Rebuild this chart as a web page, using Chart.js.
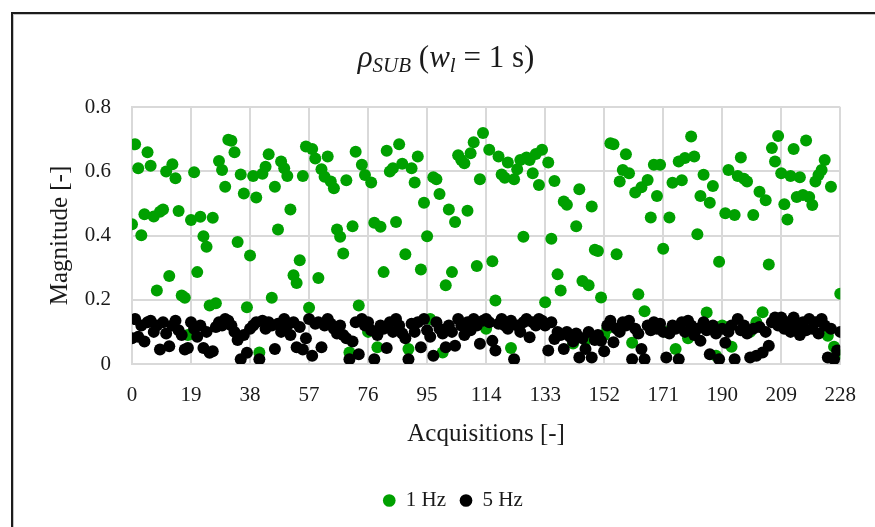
<!DOCTYPE html>
<html>
<head>
<meta charset="utf-8">
<script src="https://cdn.jsdelivr.net/npm/chart.js@4.4.0/dist/chart.umd.min.js"></script>
<style>
  html, body { margin: 0; padding: 0; background: #fff; }
  #wrap { position: relative; width: 875px; height: 527px; overflow: hidden; }
  #frame {
    position: absolute; left: 11px; top: 12px; width: 900px; height: 600px;
    border-left: 2px solid #1c1c1c; border-top: 2px solid #1c1c1c;
    box-shadow: inset 1px 1px 0 #c4c4c4;
  }
  #myChart { position: absolute; left: 0; top: 0; }
</style>
</head>
<body>
<div id="wrap">
  <div id="frame"></div>
  <canvas id="myChart" width="875" height="527"></canvas>
</div>
<script>
  'use strict';

  // x ticks / y ticks
  var xTicks = [0, 19, 38, 57, 76, 95, 114, 133, 152, 171, 190, 209, 228];
  var yTicks = [0, 0.2, 0.4, 0.6, 0.8];

  // 1 Hz series (acquisitions 0..228)
  var hz1 = [
    0.435, 0.684, 0.609, 0.401, 0.466, 0.659, 0.617, 0.459, 0.229, 0.474,
    0.481, 0.599, 0.274, 0.622, 0.578, 0.476, 0.213, 0.206, 0.09, 0.448,
    0.597, 0.286, 0.458, 0.398, 0.365, 0.182, 0.455, 0.189, 0.632, 0.604,
    0.552, 0.698, 0.695, 0.659, 0.38, 0.59, 0.531, 0.177,
    0.338, 0.585, 0.518, 0.036, 0.592, 0.614, 0.653, 0.206, 0.552, 0.419,
    0.63, 0.609, 0.585, 0.481, 0.276, 0.252, 0.323, 0.585, 0.677, 0.175,
    0.669, 0.64, 0.268, 0.606, 0.583, 0.646, 0.568, 0.547, 0.419, 0.396,
    0.344, 0.572, 0.036, 0.429, 0.661, 0.182, 0.62, 0.588,
    0.1, 0.565, 0.44, 0.052, 0.427, 0.286, 0.664, 0.599, 0.609, 0.442,
    0.684, 0.623, 0.342, 0.047, 0.609, 0.565, 0.646, 0.294, 0.502, 0.398,
    0.14, 0.581, 0.575, 0.529, 0.036, 0.245, 0.481, 0.286, 0.442, 0.65,
    0.635, 0.625, 0.477, 0.656, 0.69, 0.305, 0.575, 0.719,
    0.11, 0.667, 0.32, 0.198, 0.646, 0.59, 0.58, 0.627, 0.05, 0.575,
    0.606, 0.635, 0.396, 0.643, 0.635, 0.594, 0.654, 0.557, 0.667, 0.192,
    0.627, 0.39, 0.57, 0.279, 0.229, 0.506, 0.496, 0.09, 0.064, 0.429,
    0.544, 0.258, 0.075, 0.245, 0.49, 0.356, 0.352, 0.207,
    0.09, 0.11, 0.6875, 0.684, 0.342, 0.568, 0.604, 0.653, 0.594, 0.066,
    0.534, 0.217, 0.55, 0.164, 0.573, 0.456, 0.62, 0.523, 0.62, 0.359,
    0.1, 0.456, 0.564, 0.047, 0.63, 0.572, 0.641, 0.08, 0.708, 0.646,
    0.404, 0.523, 0.589, 0.16, 0.502, 0.554, 0.026, 0.318, 0.12, 0.469,
    0.604, 0.054, 0.464, 0.585, 0.643, 0.577, 0.568, 0.1, 0.464, 0.13,
    0.536, 0.161, 0.51, 0.31, 0.672, 0.63, 0.71, 0.594, 0.497, 0.45,
    0.585, 0.669, 0.52, 0.581, 0.526, 0.696, 0.52, 0.495, 0.568, 0.588,
    0.604, 0.635, 0.088, 0.552, 0.054, 0.03, 0.219
  ];

  // 5 Hz series (acquisitions 0..228)
  var hz5 = [
    0.08, 0.14, 0.085, 0.12, 0.07, 0.13, 0.135, 0.10, 0.12, 0.045,
    0.13, 0.095, 0.055, 0.12, 0.135, 0.105, 0.09, 0.045, 0.05, 0.13,
    0.11, 0.085, 0.12, 0.05, 0.10, 0.035, 0.04, 0.115, 0.13, 0.12,
    0.14, 0.135, 0.12, 0.10, 0.075, 0.015, 0.09, 0.035,
    0.11, 0.12, 0.13, 0.015, 0.135, 0.11, 0.13, 0.12, 0.047, 0.125,
    0.10, 0.14, 0.12, 0.09, 0.13, 0.052, 0.115, 0.045, 0.08, 0.14,
    0.026, 0.125, 0.13, 0.052, 0.12, 0.14, 0.125, 0.11, 0.095, 0.12,
    0.09, 0.08, 0.015, 0.07, 0.13, 0.03, 0.14, 0.12,
    0.13, 0.105, 0.015, 0.09, 0.12, 0.11, 0.05, 0.13, 0.10, 0.14,
    0.12, 0.095, 0.08, 0.015, 0.125, 0.10, 0.13, 0.052, 0.14, 0.105,
    0.085, 0.026, 0.13, 0.11, 0.095, 0.052, 0.12, 0.10, 0.057, 0.14,
    0.12, 0.09, 0.13, 0.105, 0.14, 0.12, 0.063, 0.135, 0.14,
    0.13, 0.072, 0.042, 0.125, 0.14, 0.12, 0.11, 0.135, 0.015, 0.12,
    0.10, 0.13, 0.14, 0.083, 0.13, 0.12, 0.14, 0.135, 0.12, 0.042,
    0.13, 0.078, 0.10, 0.09, 0.047, 0.10, 0.085, 0.07, 0.095, 0.02,
    0.08, 0.047, 0.10, 0.02, 0.075, 0.09, 0.072,
    0.04, 0.12, 0.135, 0.068, 0.11, 0.10, 0.13, 0.12, 0.135, 0.015,
    0.11, 0.095, 0.047, 0.015, 0.12, 0.105, 0.13, 0.11, 0.125, 0.10,
    0.02, 0.095, 0.12, 0.11, 0.015, 0.13, 0.10, 0.135, 0.12, 0.09,
    0.11, 0.072, 0.13, 0.105, 0.03, 0.12, 0.095, 0.015, 0.11, 0.066,
    0.10, 0.12, 0.015, 0.14, 0.105, 0.12, 0.095, 0.02, 0.11, 0.026,
    0.115, 0.036, 0.10, 0.057, 0.13, 0.145, 0.12, 0.145, 0.11, 0.13,
    0.10, 0.145, 0.12, 0.09, 0.13, 0.105, 0.14, 0.11, 0.13, 0.095,
    0.14, 0.12, 0.02, 0.11, 0.015, 0.042, 0.10
  ];

  var serif = '"Liberation Serif", "Times New Roman", serif';
  var textColor = '#1a1a1a';
  var gridColor = '#d9d9d9';

  function toPoints(values) {
    return values.map(function (v, i) {
      return { x: i, y: v };
    });
  }

  // title with italic symbols and subscripts
  var titlePlugin = {
    id: 'rhoTitle',
    afterDraw: function (chart) {
      var ctx = chart.ctx;
      var big = 31, small = 21;
      var parts = [
        { t: '\u03C1', f: 'italic ' + big + 'px ' + serif, dy: 0 },
        { t: 'SUB', f: 'italic ' + small + 'px ' + serif, dy: 5 },
        { t: ' (', f: big + 'px ' + serif, dy: 0 },
        { t: 'w', f: 'italic ' + big + 'px ' + serif, dy: 0 },
        { t: 'l', f: 'italic ' + small + 'px ' + serif, dy: 5 },
        { t: ' = 1 s)', f: big + 'px ' + serif, dy: 0 }
      ];
      ctx.save();
      var total = 0;
      parts.forEach(function (p) {
        ctx.font = p.f;
        p.w = ctx.measureText(p.t).width;
        total += p.w;
      });
      var x = 446 - total / 2;
      var baseY = 67;
      ctx.fillStyle = textColor;
      ctx.textBaseline = 'alphabetic';
      ctx.textAlign = 'left';
      parts.forEach(function (p) {
        ctx.font = p.f;
        ctx.fillText(p.t, x, baseY + p.dy);
        x += p.w;
      });
      ctx.restore();
    }
  };

  var ctx = document.getElementById('myChart').getContext('2d');
  var chart = new Chart(ctx, {
    type: 'scatter',
    data: {
      datasets: [
        {
          label: '1 Hz',
          data: toPoints(hz1),
          backgroundColor: '#00a000',
          borderWidth: 0,
          pointRadius: 6,
          pointHoverRadius: 6,
          order: 1
        },
        {
          label: '5 Hz',
          data: toPoints(hz5),
          backgroundColor: '#000000',
          borderWidth: 0,
          pointRadius: 6,
          pointHoverRadius: 6,
          order: 0
        }
      ]
    },
    options: {
      responsive: false,
      animation: false,
      layout: {
        padding: { top: 107, right: 31, bottom: 6, left: 62 }
      },
      plugins: {
        title: { display: false },
        tooltip: { enabled: false },
        legend: {
          position: 'bottom',
          labels: {
            usePointStyle: true,
            pointStyle: 'circle',
            boxWidth: 12,
            boxHeight: 9,
            padding: 14,
            color: textColor,
            font: { family: serif, size: 21 },
            // keep 1 Hz first even though 5 Hz is drawn on top
            sort: function (a, b) {
              return a.datasetIndex - b.datasetIndex;
            }
          }
        }
      },
      scales: {
        x: {
          type: 'linear',
          min: 0,
          max: 228,
          afterBuildTicks: function (scale) {
            scale.ticks = xTicks.map(function (v) { return { value: v }; });
          },
          afterFit: function (scale) {
            scale.height = 112;
          },
          grid: { color: gridColor, lineWidth: 2, drawTicks: false },
          border: { display: true, color: gridColor, width: 2 },
          ticks: {
            padding: 19,
            color: textColor,
            font: { family: serif, size: 21 },
            maxRotation: 0,
            autoSkip: false
          },
          title: {
            display: true,
            text: 'Acquisitions [-]',
            color: textColor,
            font: { family: serif, size: 25 },
            padding: { top: 0, bottom: 27 }
          }
        },
        y: {
          min: 0,
          max: 0.8,
          afterBuildTicks: function (scale) {
            scale.ticks = yTicks.map(function (v) { return { value: v }; });
          },
          afterFit: function (scale) {
            scale.width = 70;
          },
          grid: { color: gridColor, lineWidth: 2, drawTicks: false },
          border: { display: true, color: gridColor, width: 2 },
          ticks: {
            padding: 21,
            color: textColor,
            font: { family: serif, size: 21 },
            callback: function (v) {
              return v === 0 ? '0' : v.toFixed(1);
            }
          },
          title: {
            display: true,
            text: 'Magnitude [-]',
            color: textColor,
            font: { family: serif, size: 25 },
            padding: { top: -17, bottom: 0 }
          }
        }
      }
    },
    plugins: [titlePlugin]
  });
</script>
</body>
</html>
